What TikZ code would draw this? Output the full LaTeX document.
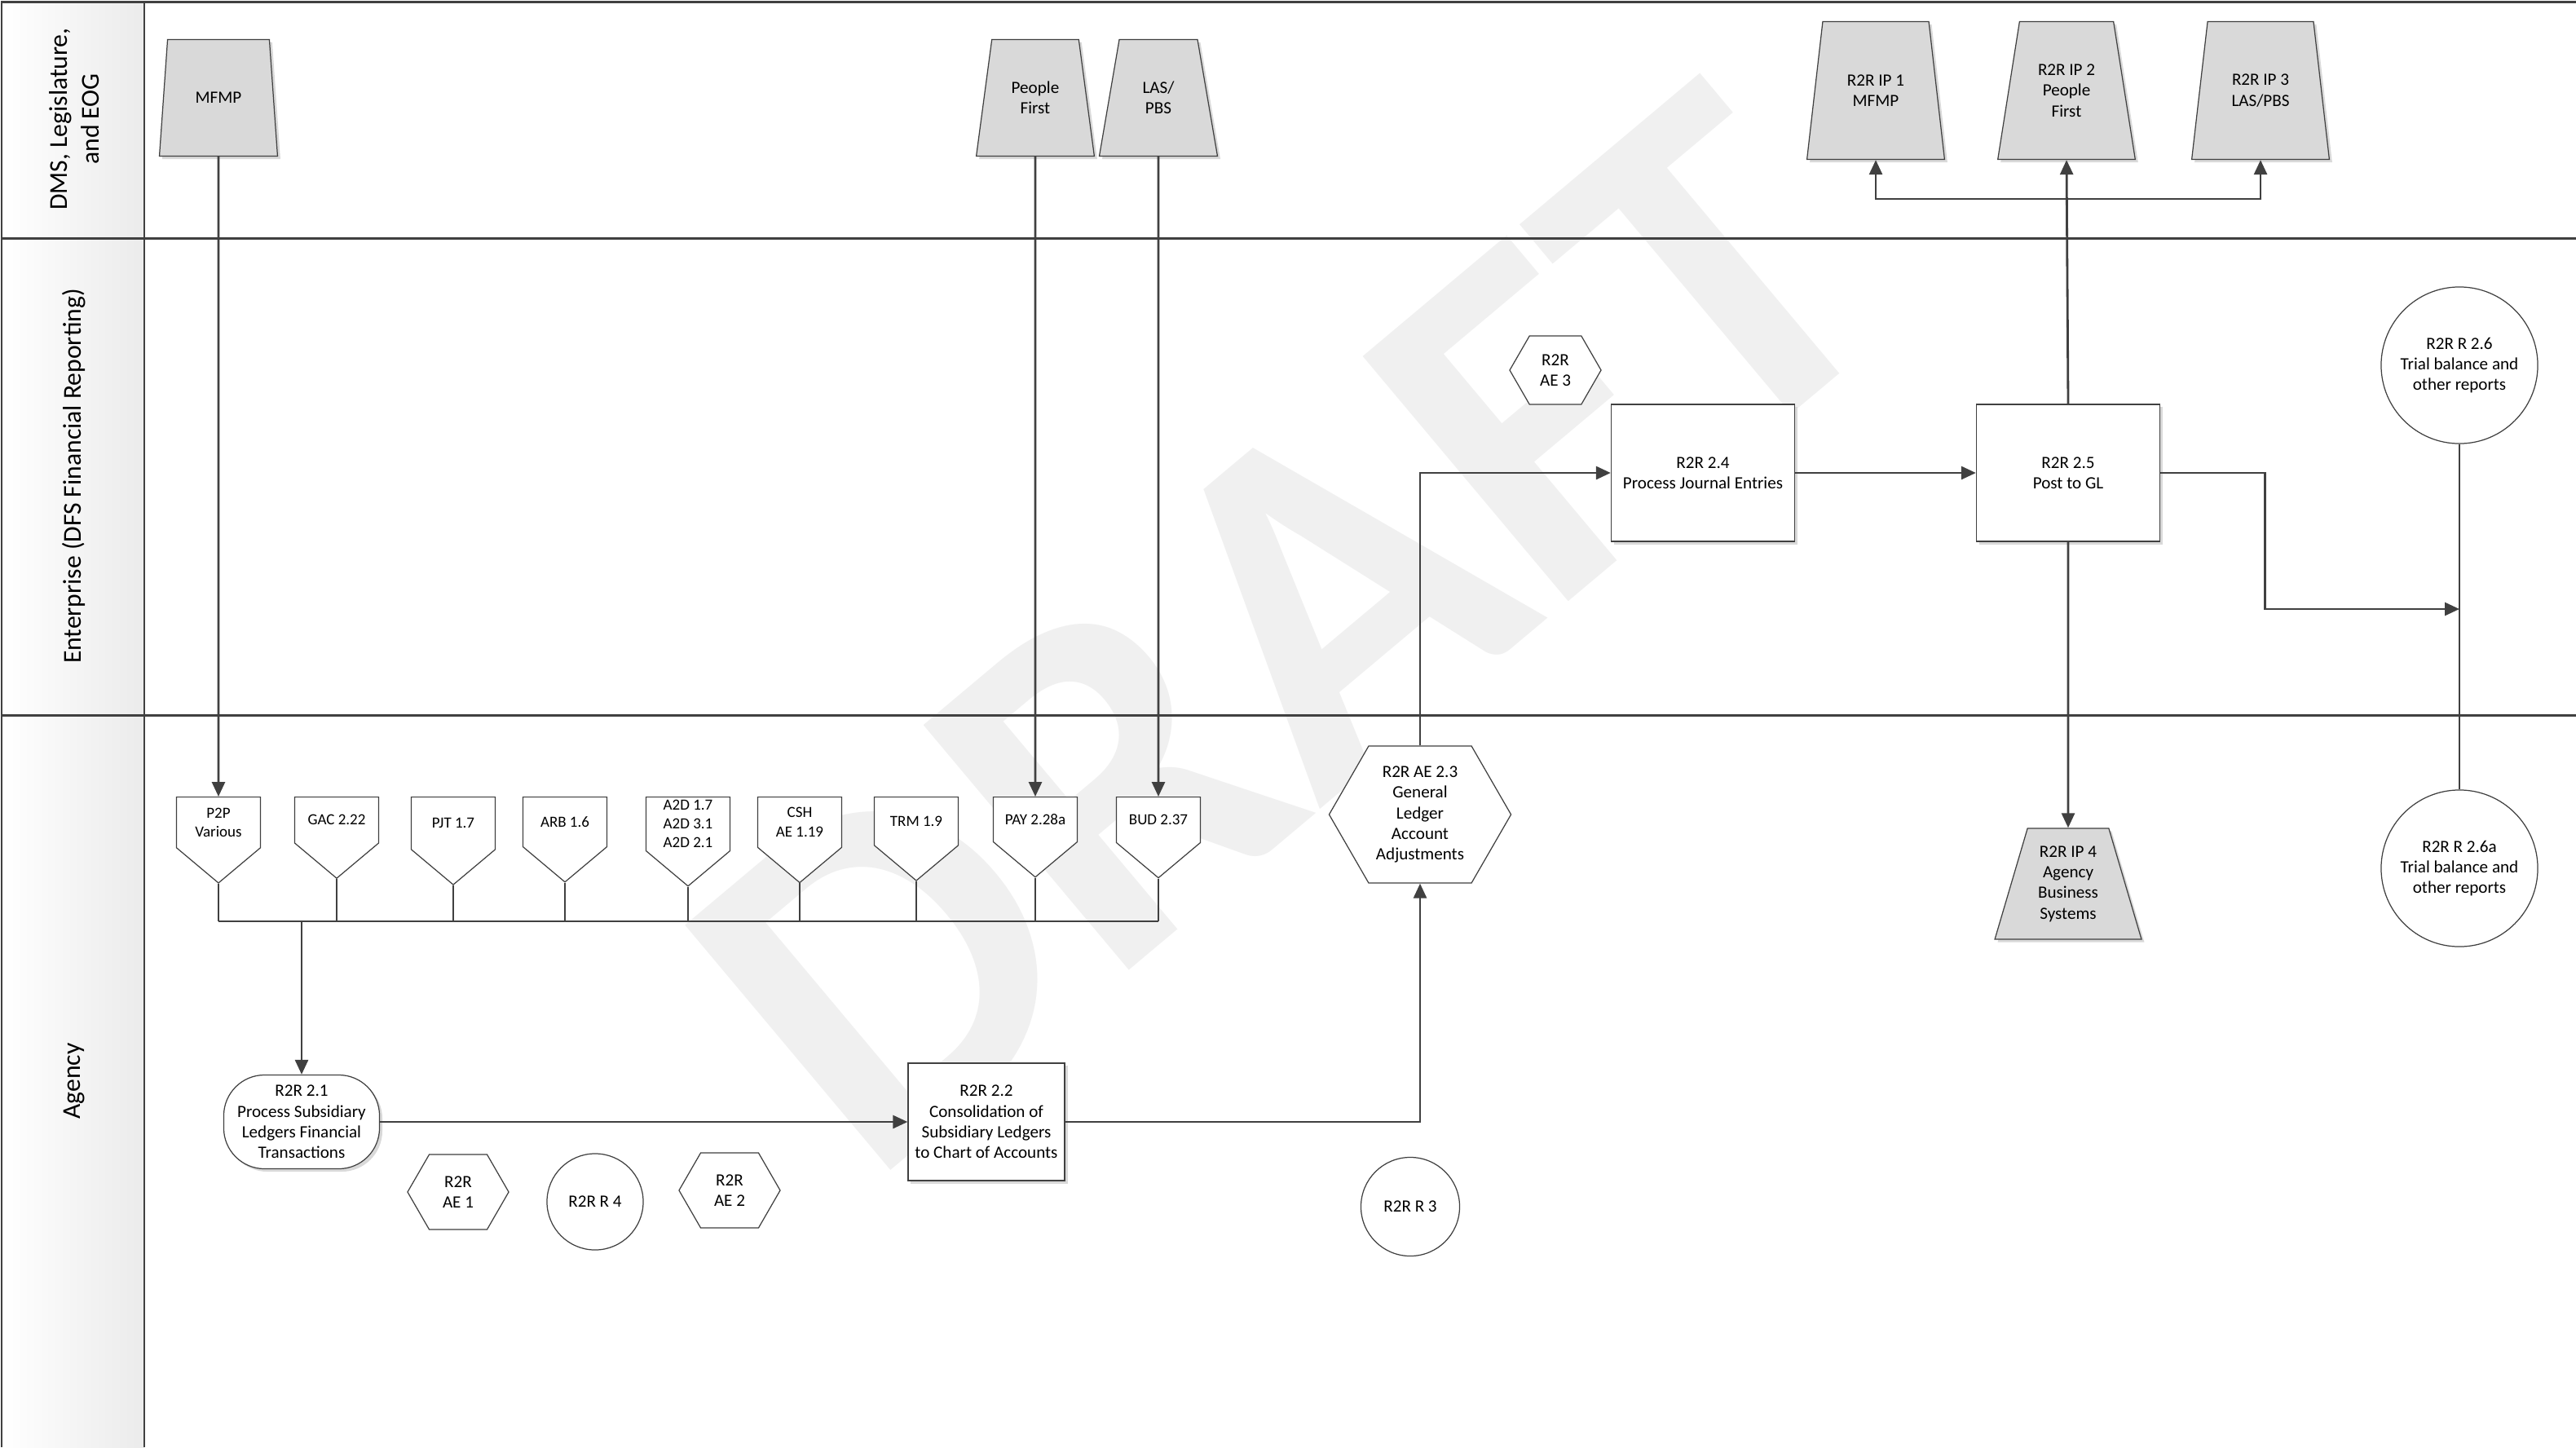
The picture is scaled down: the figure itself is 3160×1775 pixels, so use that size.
\documentclass[tikz,border=0pt]{standalone}
\usepackage{fontspec}
\setmainfont{Carlito}
\usepackage{tikz}
\usetikzlibrary{arrows.meta,shapes.geometric,shapes.symbols,shadows,positioning}
\definecolor{lineGray}{HTML}{404040}
\definecolor{trapFill}{HTML}{D9D9D9}
\definecolor{draftGray}{HTML}{F0F0F0}
\definecolor{laneFill}{HTML}{EBEBEB}

\tikzset{
  box/.style={draw=lineGray,line width=0.35pt,fill=white,align=center,inner sep=1pt,
    drop shadow={shadow xshift=0.35mm,shadow yshift=-0.35mm,fill=black!15,opacity=1}},
  proc/.style={box,rectangle,minimum width=2.25cm,minimum height=1.68cm},
  sys/.style={box,trapezium,trapezium left angle=76,trapezium right angle=76,
    trapezium stretches=true,fill=trapFill},
  hexa/.style={draw=lineGray,line width=0.35pt,fill=white,align=center,inner sep=1pt,
    signal,signal to=east and west,signal pointer angle=120},
  report/.style={draw=lineGray,line width=0.35pt,fill=white,align=center,circle,inner sep=1pt},
  offpage/.style={draw=lineGray,line width=0.35pt,fill=white,align=center,inner sep=1pt,
    signal,signal to=south,signal pointer angle=100,minimum width=1.03cm,minimum height=0.89cm,
    anchor=north,font=\fontsize{5.4}{6.6}\selectfont},
  lanelabel/.style={rotate=90,align=center,font=\fontsize{9}{11}\selectfont},
  lane/.style={lineGray,line width=0.85pt},
  flow/.style={draw=lineGray,line width=0.8pt},
  drop/.style={draw=lineGray,line width=0.45pt},
}

\begin{document}
\begin{tikzpicture}[x=0.01cm,y=-0.01cm,>={Triangle[length=1.8mm,width=1.6mm]},font=\fontsize{6}{7.2}\selectfont]
  \useasboundingbox (0,0) rectangle (3160,1775);
  % lane header column and watermark
  \fill[left color=white,right color=laneFill] (2,2) rectangle (177,1775);
  \node[text=draftGray,rotate=40,font=\bfseries\fontsize{172}{172}\selectfont] (draft) at (1578,772) {DRAFT};
  \draw[lane] (2,1775) -- (2,2) -- (3160,2);
  \draw[lane] (177,2) -- (177,1775);
  \draw[lane] (2,292) -- (3160,292);
  \draw[lane] (2,877) -- (3160,877);
  \node[lanelabel] (dms) at (91,146) {DMS, Legislature,\\and EOG};
  \node[lanelabel] (ent) at (91,584) {Enterprise (DFS Financial Reporting)};
  \node[lanelabel] (agy) at (91,1326) {Agency};

  % DMS, Legislature, and EOG
  \node[sys,minimum width=1.45cm,minimum height=1.43cm] (mfmp) at (268,120) {MFMP};
  \node[sys,minimum width=1.45cm,minimum height=1.43cm] (pf) at (1270,120) {People\\First};
  \node[sys,minimum width=1.45cm,minimum height=1.43cm] (las) at (1421,120) {LAS/\\PBS};
  \node[sys,minimum width=1.69cm,minimum height=1.69cm] (ip1) at (2301,111) {R2R IP 1\\MFMP};
  \node[sys,minimum width=1.69cm,minimum height=1.69cm] (ip2) at (2535,111) {R2R IP 2\\People\\First};
  \node[sys,minimum width=1.69cm,minimum height=1.69cm] (ip3) at (2773,111) {R2R IP 3\\LAS/PBS};

  % Enterprise
  \node[hexa,minimum width=1.12cm,minimum height=0.84cm] (ae3) at (1908,454) {R2R\\AE 3};
  \node[proc] (pje) at (2089,580) {R2R 2.4\\Process Journal Entries};
  \node[proc] (post) at (2537,580) {R2R 2.5\\Post to GL};
  \node[report,minimum size=1.92cm] (tb) at (3017,448) {R2R R 2.6\\Trial balance and\\other reports};
  \node[report,minimum size=1.92cm] (tba) at (3017,1065) {R2R R 2.6a\\Trial balance and\\other reports};
  \node[sys,trapezium left angle=72,trapezium right angle=72,minimum width=1.8cm,minimum height=1.36cm] (ip4) at (2537,1084) {R2R IP 4\\Agency\\Business\\Systems};

  % Agency
  \node[offpage] (p2p) at (268,977) {P2P\\Various};
  \node[offpage] (gac) at (413,977) {GAC 2.22};
  \node[offpage] (pjt) at (556,977) {PJT 1.7};
  \node[offpage] (arb) at (693,977) {ARB 1.6};
  \node[offpage] (a2d) at (844,977) {A2D 1.7\\A2D 3.1\\A2D 2.1};
  \node[offpage] (csh) at (981,977) {CSH\\AE 1.19};
  \node[offpage] (trm) at (1124,977) {TRM 1.9};
  \node[offpage] (pay) at (1270,977) {PAY 2.28a};
  \node[offpage] (bud) at (1421,977) {BUD 2.37};
  \node[hexa,minimum width=2.23cm,minimum height=1.68cm] (adj) at (1742,999) {R2R AE 2.3\\General\\Ledger\\Account\\Adjustments};
  \node[box,rounded corners=0.5cm,minimum width=1.91cm,minimum height=1.15cm] (sub) at (370,1376) {R2R 2.1\\Process Subsidiary\\Ledgers Financial\\Transactions};
  \node[box,minimum width=1.92cm,minimum height=1.44cm] (cons) at (1210,1376) {R2R 2.2\\Consolidation of\\Subsidiary Ledgers\\to Chart of Accounts};
  \node[hexa,minimum width=1.24cm,minimum height=0.92cm] (ae1) at (562,1462) {R2R\\AE 1};
  \node[report,minimum size=1.18cm] (r4) at (730,1474) {R2R R 4};
  \node[hexa,minimum width=1.24cm,minimum height=0.92cm] (ae2) at (895,1460) {R2R\\AE 2};
  \node[report,minimum size=1.21cm] (r3) at (1730,1480) {R2R R 3};

  % connectors
  \coordinate (busL) at (268,1130);
  \coordinate (busR) at (1421,1130);
  \coordinate (split) at (2537,244);
  \coordinate (tbjoin) at (3017,747);
  \draw[flow,->] (mfmp.south) -- (p2p.north);
  \draw[flow,->] (pf.south) -- (pay.north);
  \draw[flow,->] (las.south) -- (bud.north);
  \draw[drop] (p2p.south) -- (p2p.south |- busL);
  \draw[drop] (gac.south) -- (gac.south |- busL);
  \draw[drop] (pjt.south) -- (pjt.south |- busL);
  \draw[drop] (arb.south) -- (arb.south |- busL);
  \draw[drop] (a2d.south) -- (a2d.south |- busL);
  \draw[drop] (csh.south) -- (csh.south |- busL);
  \draw[drop] (trm.south) -- (trm.south |- busL);
  \draw[drop] (pay.south) -- (pay.south |- busL);
  \draw[drop] (bud.south) -- (bud.south |- busL);
  \draw[flow] (busL) -- (busR);
  \draw[flow,->] (sub.north |- busL) -- (sub.north);
  \draw[flow,->] (sub.east) -- (cons.west);
  \draw[flow,->] (cons.east) -| (adj.south);
  \draw[flow,->] (adj.north) |- (pje.west);
  \draw[flow,->] (pje.east) -- (post.west);
  \draw[flow,->] (post.north) -- (ip2.south);
  \draw[flow,->] (split) -| (ip1.south);
  \draw[flow,->] (split) -| (ip3.south);
  \draw[flow,->] (post.south) -- (ip4.north);
  \draw[flow,->] (post.east) -- ++(128,0) |- (tbjoin);
  \draw[flow] (tb.south) -- (tba.north);
\end{tikzpicture}
\end{document}
